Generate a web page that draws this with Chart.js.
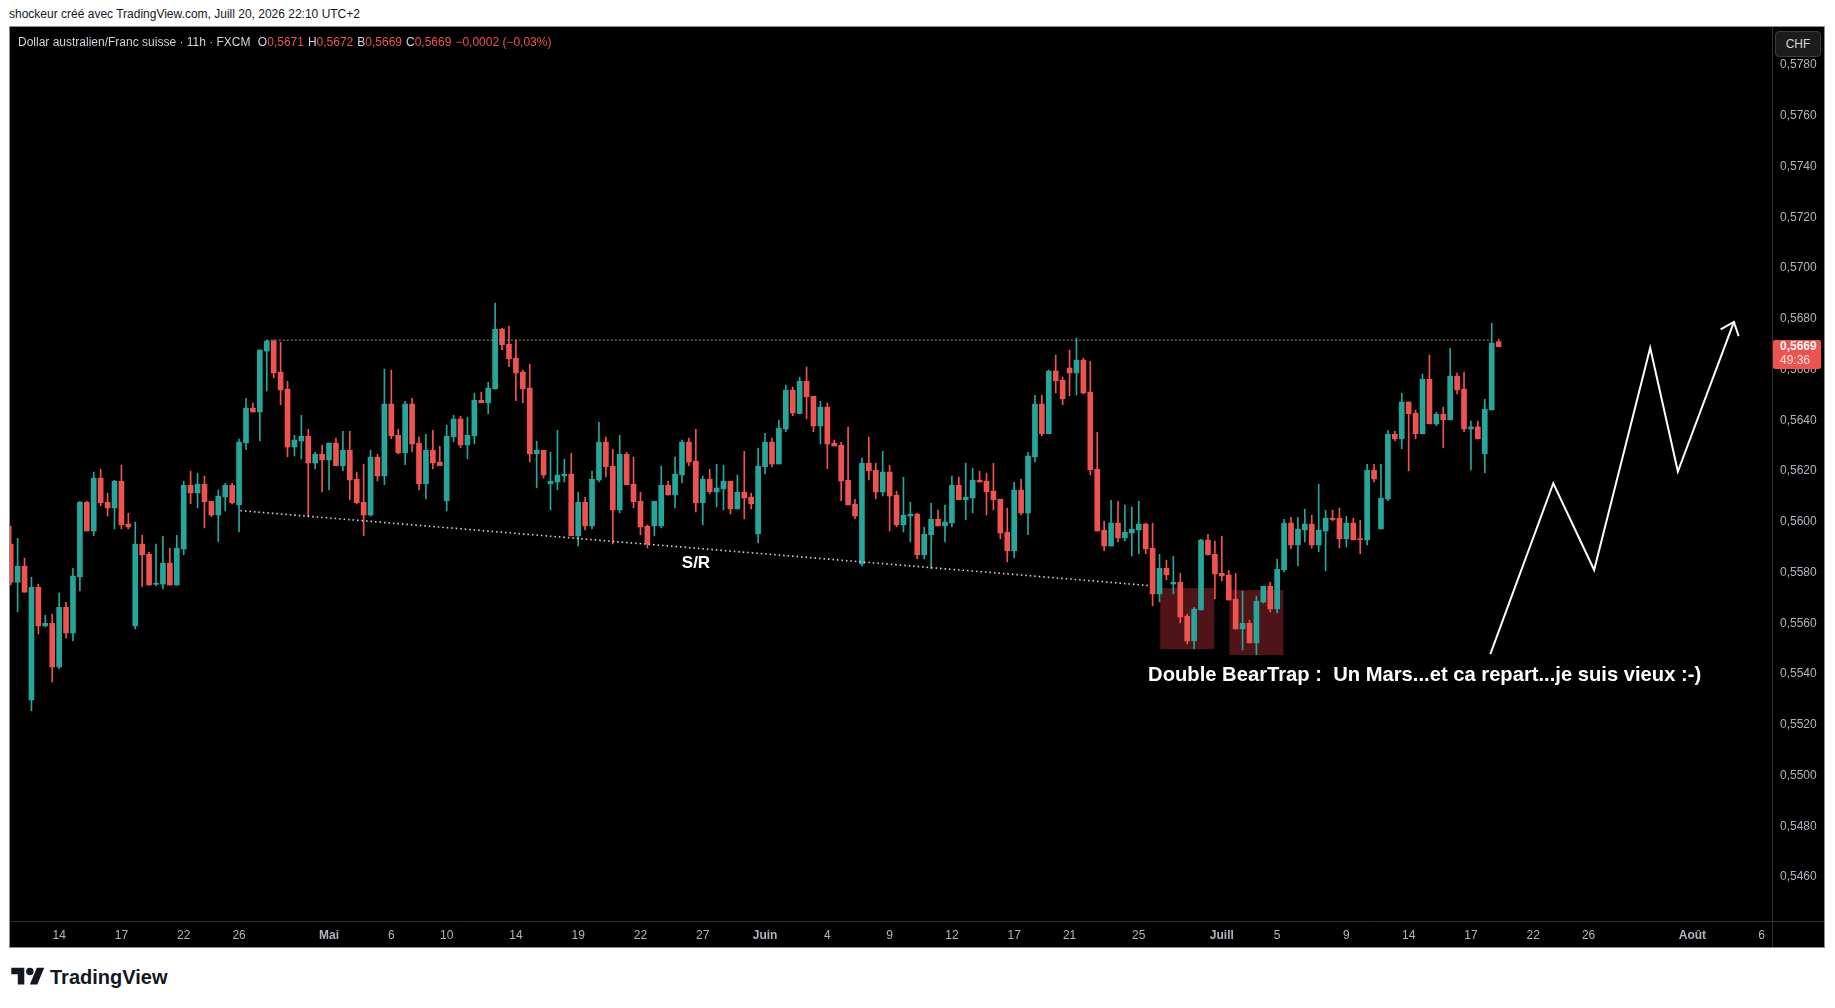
<!DOCTYPE html>
<html lang="fr">
<head>
<meta charset="utf-8">
<title>Dollar australien/Franc suisse</title>
<script src="https://cdn.jsdelivr.net/npm/chart.js@4.4.1/dist/chart.umd.min.js"></script>
<style>
  body { margin: 0; background: #fff; width: 1835px; height: 1008px; overflow: hidden; position: relative;
         font-family: "Liberation Sans", Arial, sans-serif; }
  #credit { position: absolute; left: 9px; top: 6px; font-size: 12px; line-height: 16px; color: #131722; }
  #panel { position: absolute; left: 10px; top: 27px; width: 1814px; height: 920px; background: #000;
           outline: 1px solid #8c8c8c; }
  #legend { position: absolute; left: 8px; top: 8px; font-size: 12px; line-height: 14px; color: #d1d4dc;
            white-space: pre; z-index: 2; }
  #legend .v { color: #ef5350; }
  #legend .g { margin-left: 4px; }
  #chf { position: absolute; left: 1765px; top: 4px; width: 44px; height: 24px; border: 1px solid #3a3a3a;
         border-radius: 4px; background: #1c1c1c; color: #d1d4dc; font-size: 12px; line-height: 24px;
         text-align: center; z-index: 2; }
  #brand { position: absolute; left: 11px; top: 964px; height: 26px; display: flex; align-items: center; }
  #brand span { font-weight: bold; font-size: 20px; color: #131722; margin-left: 5px; }
</style>
</head>
<body>
<div id="credit">shockeur créé avec TradingView.com, Juill 20, 2026 22:10 UTC+2</div>
<div id="panel">
  <div id="legend">Dollar australien/Franc suisse · 11h · FXCM <span class="g">O</span><span class="v">0,5671</span><span class="g">H</span><span class="v">0,5672</span><span class="g">B</span><span class="v">0,5669</span><span class="g">C</span><span class="v">0,5669</span><span class="g v">−0,0002 (−0,03%)</span></div>
  <div id="chf">CHF</div>
  <canvas id="chart"></canvas>
</div>
<div id="brand">
  <svg width="34" height="26" viewBox="0 0 36 28"><path d="M14 22H7V11H0V4h14v18zM28 22h-8l7.5-18h8L28 22z" fill="#131722"/><circle cx="20" cy="8" r="4" fill="#131722"/></svg>
  <span>TradingView</span>
</div>
<script>
// bougies 11h AUD/CHF
const opens = [
  0.55912,0.55762,0.55825,0.55298,0.55742,0.55590,0.55600,0.55428,0.55663,0.55562,
  0.55783,0.56077,0.55964,0.56172,0.56077,0.56055,0.56160,0.55991,0.55590,0.55912,
  0.55872,0.55754,0.55755,0.55837,0.55751,0.55893,0.56144,0.56114,0.56148,0.56081,
  0.56027,0.56098,0.56144,0.56067,0.56311,0.56448,0.56433,0.56673,0.56712,0.56590,
  0.56523,0.56295,0.56319,0.56337,0.56232,0.56266,0.56244,0.56310,0.56221,0.56282,
  0.56168,0.56077,0.56027,0.56255,0.56181,0.56464,0.56341,0.56272,0.56464,0.56310,
  0.56150,0.56282,0.56235,0.56083,0.56335,0.56405,0.56303,0.56339,0.56479,0.56469,
  0.56524,0.56759,0.56700,0.56645,0.56590,0.56527,0.56268,0.56282,0.56150,0.56157,
  0.56181,0.56188,0.55945,0.56077,0.55984,0.56165,0.56314,0.56219,0.56047,0.56266,
  0.56148,0.56081,0.55983,0.55984,0.55984,0.56144,0.56106,0.56185,0.56314,0.56239,
  0.56075,0.56168,0.56118,0.56130,0.56160,0.56051,0.56117,0.56097,0.55953,0.56217,
  0.56314,0.56228,0.56366,0.56519,0.56427,0.56554,0.56495,0.56378,0.56452,0.56310,
  0.56302,0.56164,0.56069,0.55834,0.56231,0.56203,0.56118,0.56196,0.56105,0.55988,
  0.56023,0.56030,0.55870,0.55949,0.56010,0.55984,0.55996,0.56144,0.56087,0.56094,
  0.56164,0.56160,0.56121,0.56089,0.55959,0.55886,0.56125,0.56035,0.56256,0.56464,
  0.56347,0.56594,0.56558,0.56606,0.56587,0.56637,0.56511,0.56207,0.55967,0.55905,
  0.55995,0.55937,0.55956,0.55968,0.55991,0.55896,0.55716,0.55817,0.55755,0.55762,
  0.55628,0.55531,0.55653,0.55928,0.55872,0.55797,0.55790,0.55695,0.55578,0.55600,
  0.55523,0.55684,0.55746,0.55657,0.55811,0.55995,0.55909,0.55968,0.55991,0.55909,
  0.55964,0.56014,0.56014,0.55933,0.55995,0.55933,0.55929,0.56203,0.55972,0.56090,
  0.56345,0.56327,0.56472,0.56428,0.56347,0.56562,0.56386,0.56424,0.56402,0.56574,
  0.56523,0.56366,0.56374,0.56268,0.56441,0.56710
];
const highs = [
  0.55983,0.55935,0.55857,0.55782,0.55754,0.55632,0.55636,0.55719,0.55683,0.55817,
  0.56081,0.56081,0.56196,0.56207,0.56113,0.56164,0.56223,0.56034,0.55999,0.55947,
  0.55880,0.55912,0.55943,0.55896,0.55947,0.56160,0.56200,0.56192,0.56180,0.56081,
  0.56125,0.56152,0.56152,0.56326,0.56487,0.56468,0.56677,0.56716,0.56716,0.56708,
  0.56554,0.56341,0.56420,0.56365,0.56274,0.56302,0.56310,0.56330,0.56357,0.56357,
  0.56196,0.56227,0.56282,0.56266,0.56602,0.56598,0.56365,0.56475,0.56487,0.56334,
  0.56345,0.56361,0.56298,0.56381,0.56420,0.56416,0.56412,0.56507,0.56511,0.56550,
  0.56862,0.56763,0.56771,0.56716,0.56598,0.56621,0.56318,0.56282,0.56274,0.56361,
  0.56247,0.56270,0.56117,0.56097,0.56200,0.56393,0.56334,0.56286,0.56341,0.56274,
  0.56255,0.56117,0.55988,0.56081,0.56219,0.56160,0.56255,0.56322,0.56330,0.56365,
  0.56180,0.56207,0.56227,0.56223,0.56160,0.56184,0.56278,0.56113,0.56290,0.56349,
  0.56330,0.56401,0.56539,0.56531,0.56570,0.56610,0.56495,0.56475,0.56468,0.56322,
  0.56314,0.56373,0.56089,0.56251,0.56334,0.56231,0.56278,0.56223,0.56121,0.56176,
  0.56077,0.56034,0.55979,0.56073,0.56046,0.56066,0.56180,0.56176,0.56231,0.56211,
  0.56200,0.56192,0.56231,0.56089,0.56054,0.56156,0.56168,0.56274,0.56499,0.56499,
  0.56598,0.56657,0.56570,0.56677,0.56724,0.56645,0.56633,0.56353,0.56002,0.56085,
  0.56081,0.56066,0.56058,0.56081,0.55995,0.55995,0.55872,0.55849,0.55864,0.55797,
  0.55636,0.55663,0.55931,0.55951,0.55924,0.55943,0.55809,0.55797,0.55727,0.55612,
  0.55707,0.55746,0.55762,0.55853,0.56010,0.56018,0.56018,0.56050,0.56026,0.56148,
  0.56046,0.56046,0.56054,0.56022,0.56014,0.56006,0.56227,0.56227,0.56227,0.56361,
  0.56357,0.56507,0.56472,0.56440,0.56582,0.56657,0.56432,0.56452,0.56684,0.56586,
  0.56590,0.56397,0.56397,0.56483,0.56783,0.56720
];
const lows = [
  0.55751,0.55645,0.55723,0.55255,0.55558,0.55586,0.55369,0.55420,0.55543,0.55531,
  0.55728,0.55964,0.55945,0.56063,0.56023,0.55972,0.55972,0.55972,0.55578,0.55744,
  0.55751,0.55748,0.55736,0.55751,0.55751,0.55870,0.56071,0.56055,0.55976,0.56020,
  0.55921,0.56043,0.56071,0.55960,0.56284,0.56433,0.56319,0.56516,0.56567,0.56461,
  0.56256,0.56260,0.56248,0.56020,0.56209,0.56118,0.56126,0.56221,0.56201,0.56087,
  0.56071,0.55945,0.56023,0.56161,0.56146,0.56327,0.56268,0.56225,0.56276,0.56126,
  0.56090,0.56209,0.56221,0.56043,0.56315,0.56292,0.56248,0.56307,0.56469,0.56426,
  0.56524,0.56678,0.56611,0.56477,0.56469,0.56236,0.56134,0.56173,0.56047,0.56126,
  0.56157,0.55945,0.55905,0.55968,0.55972,0.56157,0.56177,0.55913,0.56035,0.56146,
  0.56055,0.55949,0.55897,0.55945,0.55976,0.56106,0.56055,0.56153,0.56221,0.56039,
  0.55988,0.56110,0.56059,0.56047,0.56031,0.56051,0.56012,0.56051,0.55917,0.56189,
  0.56217,0.56228,0.56355,0.56418,0.56426,0.56406,0.56355,0.56307,0.56209,0.56299,
  0.56083,0.56067,0.56012,0.55826,0.56165,0.56090,0.56102,0.55964,0.55980,0.55960,
  0.55921,0.55854,0.55854,0.55815,0.55984,0.55921,0.55980,0.56087,0.56008,0.56035,
  0.56157,0.56027,0.56047,0.55933,0.55842,0.55858,0.56027,0.55949,0.56236,0.56339,
  0.56347,0.56508,0.56461,0.56497,0.56500,0.56504,0.56185,0.55964,0.55886,0.55905,
  0.55921,0.55925,0.55866,0.55874,0.55874,0.55669,0.55684,0.55771,0.55716,0.55602,
  0.55519,0.55499,0.55653,0.55870,0.55696,0.55767,0.55692,0.55578,0.55495,0.55523,
  0.55476,0.55680,0.55645,0.55641,0.55803,0.55893,0.55826,0.55921,0.55897,0.55882,
  0.55807,0.56004,0.55897,0.55901,0.55929,0.55874,0.55909,0.56157,0.55972,0.56083,
  0.56319,0.56288,0.56201,0.56327,0.56347,0.56386,0.56378,0.56292,0.56402,0.56504,
  0.56355,0.56205,0.56327,0.56193,0.56441,0.56690
];
const closes = [
  0.55762,0.55825,0.55723,0.55742,0.55590,0.55600,0.55428,0.55663,0.55562,0.55786,
  0.56077,0.55964,0.56172,0.56075,0.56055,0.56160,0.55988,0.55980,0.55912,0.55870,
  0.55751,0.55758,0.55837,0.55751,0.55896,0.56144,0.56114,0.56148,0.56079,0.56027,
  0.56101,0.56144,0.56075,0.56314,0.56448,0.56433,0.56677,0.56712,0.56587,0.56520,
  0.56295,0.56322,0.56337,0.56232,0.56266,0.56244,0.56310,0.56221,0.56282,0.56165,
  0.56075,0.56027,0.56255,0.56181,0.56464,0.56339,0.56272,0.56464,0.56307,0.56150,
  0.56282,0.56232,0.56221,0.56337,0.56405,0.56303,0.56341,0.56479,0.56469,0.56527,
  0.56759,0.56698,0.56642,0.56587,0.56524,0.56268,0.56282,0.56185,0.56160,0.56184,
  0.56188,0.55945,0.56077,0.55984,0.56168,0.56314,0.56217,0.56047,0.56266,0.56146,
  0.56079,0.55980,0.55913,0.56081,0.56144,0.56106,0.56188,0.56314,0.56236,0.56075,
  0.56168,0.56118,0.56133,0.56160,0.56051,0.56117,0.56094,0.56071,0.56219,0.56314,
  0.56228,0.56369,0.56519,0.56429,0.56554,0.56493,0.56378,0.56452,0.56307,0.56299,
  0.56161,0.56067,0.56023,0.56231,0.56201,0.56118,0.56196,0.56102,0.55988,0.56026,
  0.56030,0.55870,0.55951,0.56010,0.55984,0.55999,0.56144,0.56087,0.56097,0.56164,
  0.56157,0.56118,0.56087,0.55956,0.55886,0.56125,0.56035,0.56259,0.56464,0.56347,
  0.56594,0.56556,0.56485,0.56587,0.56637,0.56508,0.56205,0.55964,0.55905,0.55995,
  0.55937,0.55959,0.55971,0.55991,0.55893,0.55716,0.55817,0.55791,0.55762,0.55625,
  0.55531,0.55656,0.55928,0.55870,0.55795,0.55787,0.55692,0.55578,0.55600,0.55523,
  0.55687,0.55746,0.55657,0.55813,0.55995,0.55909,0.55971,0.55991,0.55909,0.55967,
  0.56014,0.56009,0.55933,0.55995,0.55929,0.55930,0.56203,0.56169,0.56093,0.56345,
  0.56327,0.56472,0.56426,0.56347,0.56562,0.56386,0.56424,0.56402,0.56574,0.56520,
  0.56366,0.56374,0.56327,0.56444,0.56704,0.56690
];

// axes
const priceTicks = [0.546,0.548,0.550,0.552,0.554,0.556,0.558,0.560,0.562,0.564,0.566,0.568,0.570,0.572,0.574,0.576,0.578];
const dateLabels = ['14','17','22','26','Mai','6','10','14','19','22','27','Juin','4','9','12','17','21','25','Juill','5','9','14','17','22','26','Août','6'];
const dateIndex  = [7,16,25,33,46,55,63,73,82,91,100,109,118,127,136,145,153,163,175,183,193,202,211,220,228,243,253];
const monthNames = ['Mai','Juin','Juill','Août'];

// dessins de l'auteur (en bougies / prix)
const resistanceLevel = 0.56716;
const resistanceSpan = [37, 214];
const srLine = [[33.2, 0.56044], [164.4, 0.55749]];
const trapBoxes = [[166.1, 173.9, 0.55739, 0.55498], [176.1, 183.9, 0.55731, 0.55475]];
const projection = [[213.8, 0.55479], [222.9, 0.56152], [228.8, 0.55810], [236.9, 0.56686], [240.9, 0.56198], [249.0, 0.56788]];
const arrowHead = [[247.08, 0.56758], [249.0, 0.56788], [249.68, 0.56732]];
const srLabel = [96.97, 0.55820, 'S/R'];
const trapLabel = [164.35, 0.55374, 'Double BearTrap :  Un Mars...et ca repart...je suis vieux :-)'];

const UP = '#26a69a', DOWN = '#ef5350';
const FONT = '"Liberation Sans", Arial, sans-serif';
Chart.defaults.font.family = FONT;

const candleColors = closes.map((c, i) => c >= opens[i] ? UP : DOWN);
const toPts = arr => arr.map(p => ({x: p[0], y: p[1]}));

const drawings = {
  id: 'drawings',
  beforeDatasetsDraw(chart) {
    const {ctx, scales: {x, y}, chartArea} = chart;
    ctx.save();
    ctx.beginPath();
    ctx.rect(chartArea.left, chartArea.top, chartArea.width, chartArea.height);
    ctx.clip();
    ctx.fillStyle = '#4f1418';
    trapBoxes.forEach(b => {
      const x0 = x.getPixelForValue(b[0]), x1 = x.getPixelForValue(b[1]);
      const y0 = y.getPixelForValue(b[2]), y1 = y.getPixelForValue(b[3]);
      ctx.fillRect(x0, y0, x1 - x0, y1 - y0);
    });
    ctx.restore();
  },
  afterDatasetsDraw(chart) {
    const {ctx, scales: {x, y}} = chart;
    ctx.save();
    ctx.fillStyle = '#ffffff';
    ctx.textBaseline = 'alphabetic';
    ctx.textAlign = 'left';
    ctx.font = 'bold 17px ' + FONT;
    ctx.fillText(srLabel[2], x.getPixelForValue(srLabel[0]), y.getPixelForValue(srLabel[1]));
    ctx.font = 'bold 20.2px ' + FONT;
    ctx.fillText(trapLabel[2], x.getPixelForValue(trapLabel[0]), y.getPixelForValue(trapLabel[1]));
    ctx.restore();
  },
  afterDraw(chart) {
    const {ctx, chartArea, scales: {y}} = chart;
    ctx.save();
    // séparateurs des échelles
    ctx.strokeStyle = '#323232';
    ctx.lineWidth = 1;
    ctx.beginPath();
    ctx.moveTo(chartArea.right + 0.5, 0);
    ctx.lineTo(chartArea.right + 0.5, chart.height);
    ctx.moveTo(0, chartArea.bottom + 0.5);
    ctx.lineTo(chart.width, chartArea.bottom + 0.5);
    ctx.stroke();
    // étiquette du dernier prix
    const last = closes[closes.length - 1];
    const py = Math.round(y.getPixelForValue(last));
    ctx.fillStyle = DOWN;
    ctx.beginPath();
    ctx.roundRect(chartArea.right + 1, py - 7, 48, 29, 2);
    ctx.fill();
    ctx.textAlign = 'left';
    ctx.textBaseline = 'middle';
    ctx.fillStyle = '#ffffff';
    ctx.font = 'bold 12px ' + FONT;
    ctx.fillText(last.toFixed(4).replace('.', ','), chartArea.right + 8, py);
    ctx.fillStyle = 'rgba(255,255,255,0.85)';
    ctx.font = '12px ' + FONT;
    ctx.fillText('49:36', chartArea.right + 8, py + 14);
    ctx.restore();
  }
};

const canvas = document.getElementById('chart');
canvas.width = 1814;
canvas.height = 920;

new Chart(canvas, {
  type: 'bar',
  data: {
    datasets: [
      {
        type: 'line', data: toPts(srLine), borderColor: '#d6d6d6', borderWidth: 1.6,
        borderDash: [1.5, 3], pointRadius: 0
      },
      {
        type: 'line',
        data: [{x: resistanceSpan[0], y: resistanceLevel}, {x: resistanceSpan[1], y: resistanceLevel}],
        borderColor: '#9a9a9a', borderWidth: 1, borderDash: [2, 2], pointRadius: 0
      },
      {
        type: 'line', data: toPts(projection), borderColor: '#ffffff', borderWidth: 2, pointRadius: 0
      },
      {
        type: 'line', data: toPts(arrowHead), borderColor: '#ffffff', borderWidth: 2, pointRadius: 0
      },
      {
        label: 'corps',
        data: opens.map((o, i) => ({x: i, y: [o, closes[i]]})),
        backgroundColor: candleColors,
        barThickness: 5,
        minBarLength: 1
      },
      {
        label: 'mèches',
        data: opens.map((o, i) => ({x: i, y: [lows[i], highs[i]]})),
        backgroundColor: candleColors,
        barThickness: 1
      }
    ]
  },
  options: {
    responsive: false,
    animation: false,
    events: [],
    layout: {padding: 0, autoPadding: false},
    plugins: {legend: {display: false}, tooltip: {enabled: false}},
    scales: {
      x: {
        type: 'linear',
        min: -0.1,
        max: 254.5,
        offset: false,
        stacked: true,
        grid: {display: false, drawTicks: false},
        border: {display: false},
        ticks: {
          autoSkip: false,
          maxRotation: 0,
          minRotation: 0,
          padding: 7,
          color: '#b2b5be',
          font: ctx => ({family: FONT, size: 12,
            weight: monthNames.includes(dateLabels[ctx.index]) ? 'bold' : 'normal'}),
          callback: (v, i) => dateLabels[i]
        },
        afterBuildTicks: s => { s.ticks = dateIndex.map(v => ({value: v})); },
        afterFit: s => { s.height = 26; s.paddingLeft = 0; s.paddingRight = 0; }
      },
      y: {
        type: 'linear',
        position: 'right',
        min: 0.54427,
        max: 0.5795,
        grid: {display: false, drawTicks: false},
        border: {display: false},
        ticks: {
          padding: 8,
          color: '#b2b5be',
          font: {family: FONT, size: 12},
          callback: v => v.toFixed(4).replace('.', ',')
        },
        afterBuildTicks: s => { s.ticks = priceTicks.map(v => ({value: v})); },
        afterFit: s => { s.width = 52; s.paddingTop = 0; s.paddingBottom = 0; }
      }
    }
  },
  plugins: [drawings]
});
</script>
</body>
</html>
